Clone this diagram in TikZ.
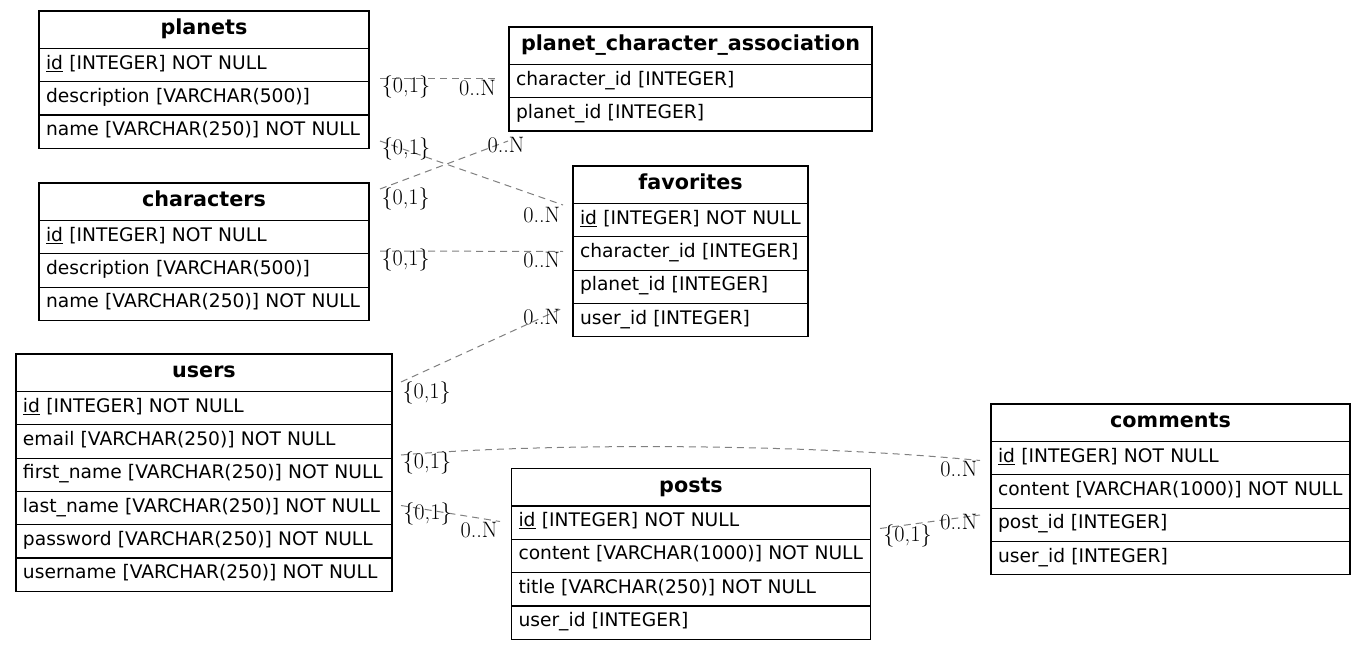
\documentclass[tikz,border=0pt]{standalone}
\usepackage{fontspec}
\newfontfamily\tblfont{DejaVu Sans}
\definecolor{edgegray}{RGB}{128,128,128}
\tikzset{
  tblhead/.style={draw=black, line width=1.2pt, anchor=north west, outer sep=0pt,
    inner sep=0pt, minimum height=37.5pt, text height=15pt, text depth=4.8pt,
    font=\tblfont\bfseries\fontsize{20.7}{24}\selectfont},
  tblrow/.style={draw=black, line width=1.2pt, anchor=north west, outer sep=0pt,
    inner xsep=7pt, inner ysep=0pt, minimum height=33.3pt, align=left,
    text height=13.5pt, text depth=5.5pt,
    font=\tblfont\fontsize{18.67}{22}\selectfont},
  reledge/.style={draw=edgegray, line width=1pt, dash pattern=on 7pt off 5pt},
  card/.style={inner sep=0pt, font=\fontsize{22.3}{25}\selectfont}
}
\begin{document}
\begin{tikzpicture}[x=1pt,y=-1pt]
\useasboundingbox (0,0) rectangle (1365,650);
\fill[white] (0,0) rectangle (1365,650);

% planets
\node[tblhead, minimum width=330pt] (pl0) at (39,11) {planets};
\node[tblrow, text width=316pt] (pl1) at (39,48.5) {\underline{id} [INTEGER] NOT NULL};
\node[tblrow, text width=316pt] (pl2) at (39,81.8) {description [VARCHAR(500)]};
\node[tblrow, text width=316pt] (pl3) at (39,115.1) {name [VARCHAR(250)] NOT NULL};

% characters
\node[tblhead, minimum width=330pt] (ch0) at (39,183) {characters};
\node[tblrow, text width=316pt] (ch1) at (39,220.5) {\underline{id} [INTEGER] NOT NULL};
\node[tblrow, text width=316pt] (ch2) at (39,253.8) {description [VARCHAR(500)]};
\node[tblrow, text width=316pt] (ch3) at (39,287.1) {name [VARCHAR(250)] NOT NULL};

% planet_character_association
\node[tblhead, minimum width=363pt] (pc0) at (509,27) {planet\_character\_association};
\node[tblrow, text width=349pt] (pc1) at (509,64.5) {character\_id [INTEGER]};
\node[tblrow, text width=349pt] (pc2) at (509,97.8) {planet\_id [INTEGER]};

% favorites
\node[tblhead, minimum width=235pt] (fa0) at (573,166) {favorites};
\node[tblrow, text width=221pt] (fa1) at (573,203.5) {\underline{id} [INTEGER] NOT NULL};
\node[tblrow, text width=221pt] (fa2) at (573,236.8) {character\_id [INTEGER]};
\node[tblrow, text width=221pt] (fa3) at (573,270.1) {planet\_id [INTEGER]};
\node[tblrow, text width=221pt] (fa4) at (573,303.4) {user\_id [INTEGER]};

% users
\node[tblhead, minimum width=376pt] (us0) at (16,354) {users};
\node[tblrow, text width=362pt] (us1) at (16,391.5) {\underline{id} [INTEGER] NOT NULL};
\node[tblrow, text width=362pt] (us2) at (16,424.8) {email [VARCHAR(250)] NOT NULL};
\node[tblrow, text width=362pt] (us3) at (16,458.1) {first\_name [VARCHAR(250)] NOT NULL};
\node[tblrow, text width=362pt] (us4) at (16,491.4) {last\_name [VARCHAR(250)] NOT NULL};
\node[tblrow, text width=362pt] (us5) at (16,524.7) {password [VARCHAR(250)] NOT NULL};
\node[tblrow, text width=362pt] (us6) at (16,558.0) {username [VARCHAR(250)] NOT NULL};

% posts
\node[tblhead, minimum width=359pt] (po0) at (511.5,468.5) {posts};
\node[tblrow, text width=345pt] (po1) at (511.5,506) {\underline{id} [INTEGER] NOT NULL};
\node[tblrow, text width=345pt] (po2) at (511.5,539.3) {content [VARCHAR(1000)] NOT NULL};
\node[tblrow, text width=345pt] (po3) at (511.5,572.6) {title [VARCHAR(250)] NOT NULL};
\node[tblrow, text width=345pt] (po4) at (511.5,605.9) {user\_id [INTEGER]};

% comments
\node[tblhead, minimum width=359pt] (co0) at (991,404) {comments};
\node[tblrow, text width=345pt] (co1) at (991,441.5) {\underline{id} [INTEGER] NOT NULL};
\node[tblrow, text width=345pt] (co2) at (991,474.8) {content [VARCHAR(1000)] NOT NULL};
\node[tblrow, text width=345pt] (co3) at (991,508.1) {post\_id [INTEGER]};
\node[tblrow, text width=345pt] (co4) at (991,541.4) {user\_id [INTEGER]};

% connector end points
\coordinate (e1a) at (380,78.5);  \coordinate (e1b) at (498,78.5);
\coordinate (e2a) at (380,141);   \coordinate (e2b) at (563,205);
\coordinate (e3a) at (380,189);   \coordinate (e3b) at (508,141);
\coordinate (e4a) at (380,251);   \coordinate (e4b) at (563,251.5);
\coordinate (e5a) at (401,382);   \coordinate (e5b) at (563,308);
\coordinate (e6a) at (401,455);   \coordinate (e6b) at (980,460.5);
\coordinate (e7a) at (401,505.5); \coordinate (e7b) at (500,521.5);
\coordinate (e8a) at (880,528.5); \coordinate (e8b) at (980,515);

\draw[reledge] (e1a) -- (e1b);
\draw[reledge] (e2a) -- (e2b);
\draw[reledge] (e3a) -- (e3b);
\draw[reledge] (e4a) -- (e4b);
\draw[reledge] (e5a) -- (e5b);
\draw[reledge] (e6a) .. controls (540,443) and (800,443) .. (e6b);
\draw[reledge] (e7a) -- (e7b);
\draw[reledge] (e8a) -- (e8b);

% cardinality labels
\node[card] (l1a) at (406,86.7) {\{0,1\}};
\node[card] (l1b) at (477.5,88.3) {0..N};
\node[card] (l2a) at (406,149) {\{0,1\}};
\node[card] (l2b) at (541.7,215) {0..N};
\node[card] (l3a) at (405.7,198.7) {\{0,1\}};
\node[card] (l3b) at (506,145) {0..N};
\node[card] (l4a) at (405.7,260) {\{0,1\}};
\node[card] (l4b) at (541.7,260) {0..N};
\node[card] (l5a) at (426.7,393.3) {\{0,1\}};
\node[card] (l5b) at (541.7,316.7) {0..N};
\node[card] (l6a) at (427,463.3) {\{0,1\}};
\node[card] (l6b) at (958.8,469) {0..N};
\node[card] (l7a) at (427.5,514) {\{0,1\}};
\node[card] (l7b) at (479,530) {0..N};
\node[card] (l8a) at (907.5,535.8) {\{0,1\}};
\node[card] (l8b) at (958.8,521.7) {0..N};
\end{tikzpicture}
\end{document}
